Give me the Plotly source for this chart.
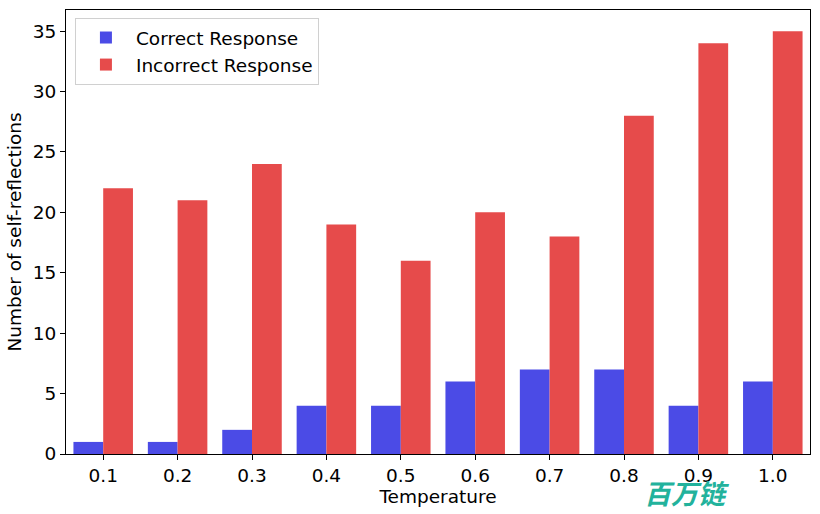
import plotly.graph_objects as go

temperatures = ["0.1", "0.2", "0.3", "0.4", "0.5", "0.6", "0.7", "0.8", "0.9", "1.0"]
correct = [1, 1, 2, 4, 4, 6, 7, 7, 4, 6]
incorrect = [22, 21, 24, 19, 16, 20, 18, 28, 34, 35]
yticks = [0, 5, 10, 15, 20, 25, 30, 35]

font = "DejaVu Sans"
fs = 18.5
xpos = list(range(len(temperatures)))

fig = go.Figure()
fig.add_trace(go.Bar(x=xpos, y=correct, name="Correct Response",
                     marker=dict(color="#4b4be6", line=dict(width=0)), offset=-0.4, width=0.4))
fig.add_trace(go.Bar(x=xpos, y=incorrect, name="Incorrect Response",
                     marker=dict(color="#e64b4b", line=dict(width=0)), offset=0.0, width=0.4))

fig.update_layout(
    width=820, height=514,
    margin=dict(l=66, r=10, t=10, b=60, autoexpand=False),
    plot_bgcolor="white", paper_bgcolor="white",
    font=dict(family=font, size=fs, color="black"),
    barmode="overlay",
    showlegend=True,
    legend=dict(x=0.012, y=0.982, xanchor="left", yanchor="top",
                bordercolor="#d0d0d0", borderwidth=1, bgcolor="rgba(255,255,255,0.8)",
                font=dict(size=fs, family=font), itemwidth=50, tracegroupgap=0),
    xaxis=dict(range=[-0.5, 9.5], tickmode="array", tickvals=xpos, ticktext=temperatures,
               showline=True, linecolor="black", linewidth=1, mirror=True, automargin=False,
               ticks="outside", ticklen=5, tickcolor="black", showgrid=False, zeroline=False,
               title=dict(text="Temperature", font=dict(size=fs), standoff=1),
               tickfont=dict(size=fs)),
    yaxis=dict(range=[0, 36.75], tickmode="array", tickvals=yticks, automargin=False,
               showline=True, linecolor="black", linewidth=1, mirror=True,
               ticks="outside", ticklen=5, tickcolor="black", showgrid=False, zeroline=False,
               title=dict(text="Number of self-reflections", font=dict(size=fs), standoff=6),
               tickfont=dict(size=fs)),
)

fig.add_annotation(xref="x domain", yref="y domain", xanchor="center", yanchor="middle",
                   x=(686 - 66) / 744, y=(454 - 492) / 444,
                   text="<b><i>百万链</i></b>", showarrow=False,
                   font=dict(family="Noto Sans CJK SC", size=27, color="#22b29c"))

fig.write_html("out.html", config={"displayModeBar": False},
               post_script="document.body.style.margin='0';document.body.style.overflow='hidden';")
